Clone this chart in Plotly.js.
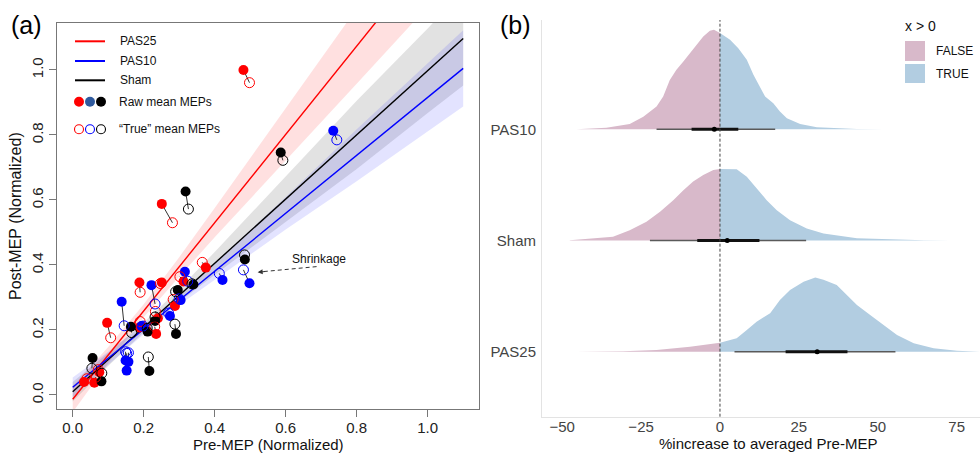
<!DOCTYPE html>
<html>
<head>
<meta charset="utf-8">
<script src="https://cdn.plot.ly/plotly-3.0.1.min.js"></script>
<style>html,body{margin:0;padding:0;background:#fff}#chart{width:980px;height:453px}</style>
</head>
<body>
<div id="chart"></div>
<script>
// ---------- Panel (a) data ----------
const pas25RawPre   = [0.481,0.251,0.188,0.251,0.097,0.375,0.312,0.288,0.235,0.240,0.188,0.061,0.032,0.075];
const pas25RawPost  = [1.000,0.588,0.346,0.346,0.222,0.392,0.349,0.274,0.188,0.236,0.208,0.038,0.040,0.070];
const pas25TruePre  = [0.498,0.281,0.190,0.247,0.107,0.365,0.302,0.283,0.231,0.233,0.190,0.065,0.040,0.072];
const pas25TruePost = [0.961,0.530,0.316,0.343,0.176,0.408,0.364,0.294,0.210,0.257,0.226,0.055,0.050,0.078];

const pas10RawPre   = [0.734,0.498,0.422,0.316,0.222,0.138,0.304,0.274,0.194,0.149,0.157,0.152];
const pas10RawPost  = [0.813,0.344,0.354,0.379,0.338,0.287,0.292,0.243,0.212,0.106,0.102,0.075];
const pas10TruePre  = [0.744,0.481,0.413,0.324,0.232,0.145,0.300,0.270,0.198,0.149,0.157,0.152];
const pas10TruePost = [0.785,0.385,0.374,0.350,0.280,0.213,0.296,0.252,0.212,0.133,0.130,0.128];

const shamRawPre    = [0.586,0.318,0.485,0.340,0.296,0.232,0.211,0.291,0.164,0.216,0.056,0.081];
const shamRawPost   = [0.746,0.626,0.417,0.340,0.323,0.228,0.195,0.188,0.210,0.074,0.114,0.042];
const shamTruePre   = [0.592,0.326,0.484,0.336,0.290,0.232,0.210,0.288,0.166,0.213,0.054,0.082];
const shamTruePost  = [0.722,0.572,0.431,0.342,0.318,0.240,0.205,0.218,0.192,0.117,0.082,0.067];

const fitX      = [0, 1.1];
const pas25Fit  = [-0.013, 1.481];
const pas10Fit  = [0.024, 1.005];
const shamFit   = [0.010, 1.097];

const bandX     = [0, 0.1, 0.2, 0.3, 0.4, 0.6, 0.8, 1.0, 1.1];
const pas25Lo   = [-0.053, 0.098, 0.239, 0.364, 0.485, 0.722, 0.958, 1.195, 1.310];
const pas25Hi   = [ 0.027, 0.148, 0.279, 0.424, 0.575, 0.882, 1.188, 1.495, 1.650];
const shamLo    = [-0.020, 0.089, 0.193, 0.286, 0.370, 0.533, 0.695, 0.868, 0.952];
const shamHi    = [ 0.040, 0.129, 0.223, 0.326, 0.440, 0.673, 0.905, 1.128, 1.242];
const pas10Lo   = [-0.006, 0.093, 0.187, 0.277, 0.356, 0.509, 0.658, 0.811, 0.888];
const pas10Hi   = [ 0.054, 0.133, 0.217, 0.307, 0.406, 0.609, 0.818, 1.021, 1.122];

const xTicksA = [0, 0.2, 0.4, 0.6, 0.8, 1.0];
const xTickTextA = ['0.0','0.2','0.4','0.6','0.8','1.0'];
const yTicksA = [0, 0.2, 0.4, 0.6, 0.8, 1.0];
const yTickTextA = ['0.0','0.2','0.4','0.6','0.8','1.0'];

// ---------- Panel (b) data ----------
const categories = ['PAS25', 'Sham', 'PAS10'];
const pas10DensX = [-45.5,-36,-28.6,-24.3,-20.1,-18,-15.9,-13.8,-11.6,-9.5,-7.4,-5.3,-3.2,-1.9,0,3.2,5.8,8.5,10.6,12.2,14.3,16.9,19,21.2,25.4,30.7,43.4,51.9];
const pas10Dens  = [0,0.015,0.048,0.114,0.204,0.294,0.444,0.535,0.61,0.685,0.76,0.835,0.886,0.895,0.865,0.805,0.73,0.625,0.49,0.40,0.294,0.234,0.16,0.10,0.048,0.018,0.003,0];
const shamDensX  = [-47.6,-41.3,-33.9,-28.6,-23.3,-19,-14.8,-11.6,-8.5,-5.3,-2.1,0,5.3,8.5,11.6,14.8,18,22.2,27.5,32.8,43.4,54,64.6,73];
const shamDens   = [0.003,0.015,0.033,0.093,0.168,0.258,0.363,0.453,0.53,0.59,0.634,0.643,0.64,0.574,0.468,0.363,0.273,0.183,0.108,0.063,0.021,0.009,0.003,0];
const pas25DensX = [-45.5,-30.7,-20.1,-9.5,0,5.3,8.5,11.6,15.9,19,22.2,26.5,30.2,32.8,37,40.2,43.4,47.6,51.9,56.1,61.4,67.7,75.1,82.5];
const pas25Dens  = [0,0.003,0.015,0.045,0.081,0.12,0.195,0.27,0.345,0.465,0.556,0.63,0.667,0.646,0.60,0.51,0.42,0.33,0.24,0.15,0.075,0.03,0.009,0.003];
// order: PAS25, Sham, PAS10
const medians = [30.8, 2.3, -1.8];
const q66Lo = [20.8, -7.2, -9.0];
const q66Hi = [40.4, 12.5, 5.8];
const q95Lo = [4.6, -22.2, -20.1];
const q95Hi = [55.6, 27.3, 17.5];
const xTicksB = [-50, -25, 0, 25, 50, 75];

// ---------- helpers ----------
const W = 980, H = 453;
const px = x => x / W;
const py = y => (H - y) / H;
const FONT = 'Liberation Sans, Arial, sans-serif';
const RED = '#ff0000', BLUE = '#0000ff', BLACK = '#000000';

const traces = [];

function band(xs, lo, hi, color) {
  traces.push({x: xs.concat(xs.slice().reverse()), y: hi.concat(lo.slice().reverse()),
    type: 'scatter', mode: 'lines', fill: 'toself', fillcolor: color,
    line: {width: 0}, hoverinfo: 'skip', xaxis: 'x', yaxis: 'y', showlegend: false});
}
band(bandX, pas25Lo, pas25Hi, 'rgba(255,0,0,0.12)');
band(bandX, shamLo, shamHi, 'rgba(110,110,110,0.2)');
band(bandX, pas10Lo, pas10Hi, 'rgba(0,0,255,0.11)');

function fit(ys, color) {
  traces.push({x: fitX, y: ys, type: 'scatter', mode: 'lines', line: {color: color, width: 1.4},
    xaxis: 'x', yaxis: 'y', showlegend: false, hoverinfo: 'skip'});
}
fit(pas25Fit, RED); fit(shamFit, BLACK); fit(pas10Fit, BLUE);

const segX = [], segY = [];
[[pas25RawPre,pas25RawPost,pas25TruePre,pas25TruePost],
 [pas10RawPre,pas10RawPost,pas10TruePre,pas10TruePost],
 [shamRawPre,shamRawPost,shamTruePre,shamTruePost]].forEach(g => {
  g[0].forEach((v, i) => { segX.push(v, g[2][i], null); segY.push(g[1][i], g[3][i], null); });
});
traces.push({x: segX, y: segY, type: 'scatter', mode: 'lines', line: {color: '#333', width: 1},
  xaxis: 'x', yaxis: 'y', showlegend: false, hoverinfo: 'skip'});

function pts(xs, ys, color, open) {
  traces.push({x: xs, y: ys, type: 'scatter', mode: 'markers', xaxis: 'x', yaxis: 'y', showlegend: false,
    marker: open ? {symbol: 'circle-open', size: 10, color: color, line: {width: 1, color: color}}
                 : {symbol: 'circle', size: 10, color: color, line: {width: 0}}});
}
pts(pas25RawPre, pas25RawPost, RED, false);
pts(pas10RawPre, pas10RawPost, BLUE, false);
pts(shamRawPre, shamRawPost, BLACK, false);
pts(pas25TruePre, pas25TruePost, RED, true);
pts(pas10TruePre, pas10TruePost, BLUE, true);
pts(shamTruePre, shamTruePost, BLACK, true);

// ---------- Panel (b) ridges ----------
const FALSEC = 'rgb(216,185,202)', TRUEC = 'rgb(178,205,225)';
function ridge(xs, ds, base) {
  const negX = [], negY = [], posX = [], posY = [];
  xs.forEach((x, i) => {
    if (x <= 0) { negX.push(x); negY.push(base + ds[i]); }
    if (x >= 0) { posX.push(x); posY.push(base + ds[i]); }
  });
  [[negX, negY, FALSEC], [posX, posY, TRUEC]].forEach(p => {
    const xx = p[0], yy = p[1];
    traces.push({x: xx.concat([xx[xx.length-1], xx[0]]), y: yy.concat([base, base]),
      type: 'scatter', mode: 'lines', fill: 'toself', fillcolor: p[2], line: {width: 0},
      xaxis: 'x2', yaxis: 'y2', showlegend: false, hoverinfo: 'skip'});
  });
}
ridge(pas25DensX, pas25Dens, 1);
ridge(shamDensX, shamDens, 2);
ridge(pas10DensX, pas10Dens, 3);

categories.forEach((c, i) => {
  const b = i + 1;
  traces.push({x: [q95Lo[i], q95Hi[i]], y: [b, b], type: 'scatter', mode: 'lines',
    line: {color: '#5a5a5a', width: 1.5}, xaxis: 'x2', yaxis: 'y2', showlegend: false, hoverinfo: 'skip'});
  traces.push({x: [q66Lo[i], q66Hi[i]], y: [b, b], type: 'scatter', mode: 'lines',
    line: {color: '#111', width: 3}, xaxis: 'x2', yaxis: 'y2', showlegend: false, hoverinfo: 'skip'});
  traces.push({x: [medians[i]], y: [b], type: 'scatter', mode: 'markers',
    marker: {color: '#000', size: 5}, xaxis: 'x2', yaxis: 'y2', showlegend: false, hoverinfo: 'skip'});
});

// ---------- layout ----------
const shapes = [];
const annotations = [];

// left legend lines
[[41.3, RED], [61, BLUE], [80.3, BLACK]].forEach(r => {
  shapes.push({type: 'line', xref: 'paper', yref: 'paper', x0: px(75), x1: px(105), y0: py(r[0]), y1: py(r[0]),
    line: {color: r[1], width: 2}});
});
[[79, RED], [90, '#2f5a9e'], [101, BLACK]].forEach(m => {
  shapes.push({type: 'circle', xref: 'paper', yref: 'paper', x0: px(m[0]-5), x1: px(m[0]+5),
    y0: py(101.7+5), y1: py(101.7-5), fillcolor: m[1], line: {width: 0}});
});
[[79, RED], [90, BLUE], [101, BLACK]].forEach(m => {
  shapes.push({type: 'circle', xref: 'paper', yref: 'paper', x0: px(m[0]-4.5), x1: px(m[0]+4.5),
    y0: py(129.3+4.5), y1: py(129.3-4.5), line: {color: m[1], width: 1.1}});
});
[['PAS25', 118, 41.3], ['PAS10', 118, 61], ['Sham', 118, 80.3],
 ['Raw mean MEPs', 116.5, 101.7], ['\u201cTrue\u201d mean MEPs', 116.5, 129.3]].forEach(t => {
  annotations.push({text: t[0], xref: 'paper', yref: 'paper', x: px(t[1]), y: py(t[2]),
    xanchor: 'left', yanchor: 'middle', showarrow: false, font: {family: FONT, size: 12, color: '#111'}});
});

// shrinkage
shapes.push({type: 'line', xref: 'x', yref: 'y', x0: 0.687, y0: 0.395, x1: 0.530, y1: 0.379,
  line: {color: '#333', width: 1, dash: '4px,3px'}});
annotations.push({x: 0.521, y: 0.378, ax: 0.545, ay: 0.380, axref: 'x', ayref: 'y', xref: 'x', yref: 'y',
  text: '', showarrow: true, arrowhead: 2, arrowsize: 1, arrowwidth: 1, arrowcolor: '#333'});
annotations.push({text: 'Shrinkage', xref: 'paper', yref: 'paper', x: px(319), y: py(259),
  xanchor: 'center', yanchor: 'middle', showarrow: false, font: {family: FONT, size: 12, color: '#111'}});

// panel labels
annotations.push({text: '(a)', xref: 'paper', yref: 'paper', x: px(26), y: py(25), xanchor: 'center', yanchor: 'middle',
  showarrow: false, font: {family: FONT, size: 25, color: '#000'}});
annotations.push({text: '(b)', xref: 'paper', yref: 'paper', x: px(515), y: py(25), xanchor: 'center', yanchor: 'middle',
  showarrow: false, font: {family: FONT, size: 25, color: '#000'}});

// axis titles
annotations.push({text: 'Post-MEP (Normalized)', xref: 'paper', yref: 'paper', x: px(15), y: py(216), textangle: -90,
  xanchor: 'center', yanchor: 'middle', showarrow: false, font: {family: FONT, size: 16, color: '#111'}});
annotations.push({text: 'Pre-MEP (Normalized)', xref: 'paper', yref: 'paper', x: px(268), y: py(444),
  xanchor: 'center', yanchor: 'middle', showarrow: false, font: {family: FONT, size: 15, color: '#111'}});
annotations.push({text: '%increase to averaged Pre-MEP', xref: 'paper', yref: 'paper', x: px(768), y: py(443),
  xanchor: 'center', yanchor: 'middle', showarrow: false, font: {family: FONT, size: 15, color: '#111'}});

// right legend
annotations.push({text: 'x &gt; 0', xref: 'paper', yref: 'paper', x: px(903), y: py(26), xanchor: 'left', yanchor: 'middle',
  showarrow: false, font: {family: FONT, size: 14, color: '#111'}});
shapes.push({type: 'rect', xref: 'paper', yref: 'paper', x0: px(905), x1: px(925), y0: py(61), y1: py(41),
  fillcolor: FALSEC, line: {width: 0}});
shapes.push({type: 'rect', xref: 'paper', yref: 'paper', x0: px(905), x1: px(925), y0: py(83), y1: py(64),
  fillcolor: TRUEC, line: {width: 0}});
annotations.push({text: 'FALSE', xref: 'paper', yref: 'paper', x: px(934), y: py(51), xanchor: 'left', yanchor: 'middle',
  showarrow: false, font: {family: FONT, size: 12, color: '#111'}});
annotations.push({text: 'TRUE', xref: 'paper', yref: 'paper', x: px(934), y: py(74), xanchor: 'left', yanchor: 'middle',
  showarrow: false, font: {family: FONT, size: 12, color: '#111'}});

// zero dashed line
shapes.push({type: 'line', xref: 'x2', yref: 'y2 domain', x0: 0, x1: 0, y0: 0, y1: 1,
  line: {color: '#444', width: 1, dash: '3px,2px'}});

const layout = {
  width: W, height: H, margin: {l: 0, r: 0, t: 0, b: 0},
  paper_bgcolor: '#fff', plot_bgcolor: 'rgba(0,0,0,0)', showlegend: false,
  font: {family: FONT, color: '#111'},
  xaxis: {domain: [px(57), px(479)], range: [-0.0442, 1.1445], anchor: 'y',
    tickvals: xTicksA, ticktext: xTickTextA, ticks: 'outside', ticklen: 7, tickcolor: '#777',
    showline: true, mirror: true, linecolor: '#777', linewidth: 1, showgrid: false, zeroline: false,
    tickfont: {family: FONT, size: 15, color: '#222'}, automargin: false, ticklabelstandoff: -2},
  yaxis: {domain: [py(409), py(23)], range: [-0.0431, 1.1446], anchor: 'x',
    tickvals: yTicksA, ticktext: yTickTextA, ticks: 'outside', ticklen: 7, tickcolor: '#777', tickangle: -90,
    showline: true, mirror: true, linecolor: '#777', linewidth: 1, showgrid: false, zeroline: false,
    tickfont: {family: FONT, size: 15, color: '#222'}, automargin: false},
  xaxis2: {domain: [px(542), 1], range: [-56.4, 82.4], anchor: 'y2',
    tickvals: xTicksB, ticks: '', showline: true, linecolor: '#e3e3e3', linewidth: 1, showgrid: false, zeroline: false,
    tickfont: {family: FONT, size: 15, color: '#444'}, automargin: false, ticklabelstandoff: -4},
  yaxis2: {domain: [py(416.7), py(20)], range: [0.4155, 3.983], anchor: 'x2',
    tickvals: [1, 2, 3], ticktext: categories, ticks: '', showline: true, linecolor: '#e3e3e3', linewidth: 1,
    showgrid: false, zeroline: false, ticklabelstandoff: 2,
    tickfont: {family: FONT, size: 15, color: '#444'}, automargin: false},
  shapes: shapes, annotations: annotations
};

Plotly.newPlot('chart', traces, layout, {displayModeBar: false, staticPlot: true});
</script>
</body>
</html>
